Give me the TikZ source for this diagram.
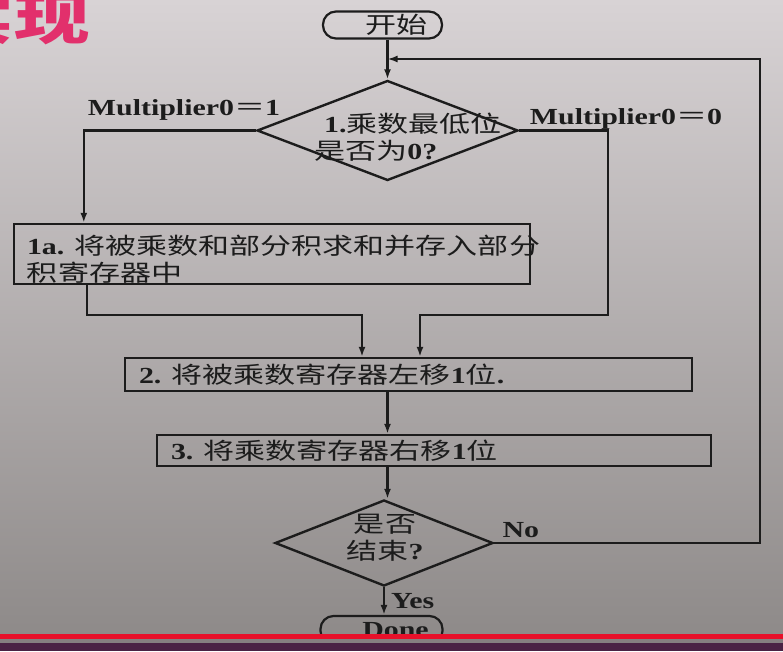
\documentclass[tikz,border=0pt]{standalone}
\usepackage{fontspec}
\setmainfont{Liberation Serif}[FakeStretch=1.3]
\newfontfamily\cjk{Noto Sans CJK SC}[FakeStretch=1.35]
\usetikzlibrary{shapes.geometric, arrows.meta, positioning, calc}
\definecolor{ink}{HTML}{1C1C1C}
\definecolor{slidetop}{HTML}{D8D3D5}
\definecolor{slidebot}{HTML}{8E8A89}
\definecolor{titlepink}{HTML}{E2306C}
\definecolor{barred}{HTML}{E8102A}
\definecolor{bargray}{HTML}{857F80}
\definecolor{barpurple}{HTML}{4A2244}
\newcommand{\zh}[1]{{\cjk\mdseries #1}}

\begin{document}
\begin{tikzpicture}[
  x=1pt, y=-1pt,
  txt/.style={font=\fontsize{23}{27}\selectfont\bfseries,
    text=ink, inner sep=0pt},
  terminal/.style={txt, rectangle, rounded corners=13pt,
    draw=ink, line width=2.2pt,
    minimum width=119pt, minimum height=27pt},
  process/.style={rectangle, draw=ink, line width=2.4pt, inner sep=0pt},
  decision/.style={diamond, draw=ink, line width=2.4pt, inner sep=0pt},
  arr/.style={-{Latex[length=10pt,width=7pt]}, line width=2.2pt, draw=ink},
  lbl/.style={txt}
]
  \useasboundingbox (0,0) rectangle (783,651);
  \clip (0,0) rectangle (783,651);
  \shade[top color=slidetop, bottom color=slidebot] (0,0) rectangle (783,636);

  % slide title, cut at the edge
  \node[font=\cjk\bfseries\fontsize{56}{56}\selectfont, text=titlepink,
    anchor=south east, inner sep=0pt] (title) at (90,45) {实现};

  % start and first test
  \node[terminal] (start) at (382.5,25) {\hspace*{28pt}\zh{开始}};
  \node[decision, minimum width=261pt, minimum height=100pt] (test1)
    at (387.5,130.5) {};
  \node[txt, align=left] (test1txt) at (408,137)
    {\hspace*{10pt}1.\zh{乘数最低位}\\\zh{是否为}0?};
  \node[lbl] (lab1) at (184,110) {Multiplier0\zh{＝}1};
  \node[lbl] (lab0) at (626,119) {Multiplier0\zh{＝}0};

  % steps
  \node[process, minimum width=516pt, minimum height=60pt] (add)
    at (272,254) {};
  \node[txt, align=left, anchor=west] (addtxt)
    at ([xshift=14pt, yshift=-5pt]add.west)
    {1a. \zh{将被乘数和部分积求和并存入部分}\\\zh{积寄存器中}};
  \node[process, minimum width=567pt, minimum height=33pt] (shiftm)
    at (408.5,374.5) {};
  \node[txt, anchor=west] (shiftmtxt) at ([xshift=15pt]shiftm.west)
    {2. \zh{将被乘数寄存器左移}1\zh{位}.};
  \node[process, minimum width=554pt, minimum height=31pt] (shiftq)
    at (434,450.5) {};
  \node[txt, anchor=west] (shiftqtxt) at ([xshift=15pt]shiftq.west)
    {3. \zh{将乘数寄存器右移}1\zh{位}};

  % end test
  \node[decision, minimum width=218pt, minimum height=86pt] (test2)
    at (384,543) {};
  \node[txt, align=center] (test2txt) at (385,538)
    {\zh{是否}\\\zh{结束}?};
  \node[terminal, minimum width=122pt, minimum height=28pt] (done)
    at (381.5,630) {\hspace*{28pt}Done};

  \coordinate (join) at (387.5,59);
  \coordinate (loopr) at (760,543);
  \coordinate (rdrop) at (608,315);
  \coordinate (lmerge) at (362,315);
  \coordinate (rmerge) at (420,315);

  \draw[arr] (start.south -| test1.north) -- (test1.north);
  \draw[arr] (test1.west) -| ([xshift=71pt]add.north west);
  \draw[arr] ([xshift=74pt]add.south west) |- (lmerge)
    -- (lmerge |- shiftm.north);
  \draw[arr] (test1.east) -| (rdrop) -- (rmerge) -- (rmerge |- shiftm.north);
  \draw[arr] (shiftm.south -| test1.north) -- (shiftq.north -| test1.north);
  \draw[arr] (shiftq.south -| test1.north) -- (test2.north -| test1.north);
  \draw[arr] (test2.south) -- node[lbl, right=6pt]{Yes}
    (done.north -| test2.south);
  \draw[arr] (test2.east) -- node[lbl, pos=0.1, above=4pt]{No} (loopr)
    |- (join);

  % player bar at the bottom
  \fill[barred] (0,634) rectangle (783,638.5);
  \fill[bargray] (0,638.5) rectangle (783,643);
  \fill[barpurple] (0,643) rectangle (783,651);
\end{tikzpicture}
\end{document}
